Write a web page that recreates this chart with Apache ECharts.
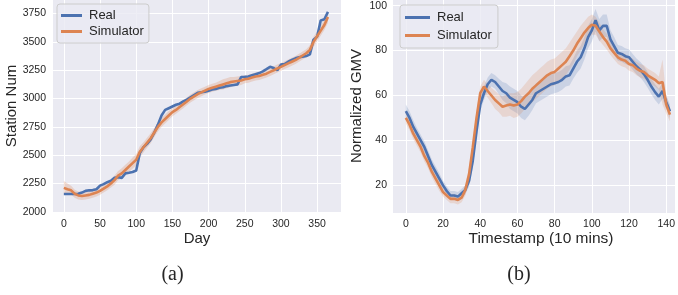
<!DOCTYPE html>
<html>
<head>
<meta charset="utf-8">
<script src="https://cdn.jsdelivr.net/npm/echarts@6/dist/echarts.min.js"></script>
<style>
  html, body { margin: 0; padding: 0; background: #fff; }
  #chart { width: 678px; height: 295px; }
</style>
</head>
<body>
<div id="chart"></div>
<script>
// (a) station count per day, sampled every 5 days
const dayStep = 5
const stationReal = [2158,2158,2158,2158,2160,2170,2185,2190,2192,2200,
  2232,2245,2262,2275,2300,2305,2300,2340,2345,2352,
  2365,2520,2570,2600,2640,2700,2770,2850,2900,2915,
  2930,2945,2955,2975,2990,3010,3030,3050,3055,3060,
  3070,3080,3085,3095,3100,3110,3115,3120,3125,3190,
  3192,3195,3205,3215,3225,3240,3260,3280,3270,3250,
  3300,3305,3325,3340,3355,3365,3370,3375,3390,3520,
  3545,3690,3700,3765]
const stationSim = [2212,2200,2190,2160,2145,2140,2145,2150,2160,2170,
  2185,2205,2225,2250,2280,2320,2340,2370,2400,2430,
  2460,2530,2570,2610,2650,2700,2750,2790,2820,2850,
  2880,2900,2925,2950,2975,3000,3020,3040,3055,3070,
  3085,3095,3105,3115,3125,3135,3145,3150,3155,3160,
  3170,3175,3185,3195,3200,3210,3220,3235,3250,3265,
  3280,3295,3310,3325,3340,3360,3380,3400,3430,3500,
  3550,3600,3650,3720]
const stationSimSpread = [60,50,40,35,35,35,35,35,35,35,
  35,35,35,35,40,40,45,45,45,50,
  50,50,45,45,45,40,40,40,40,40,
  35,35,35,35,35,35,35,35,35,35,
  35,35,35,40,45,45,45,40,40,40,
  35,35,35,35,35,35,35,35,35,35,
  35,35,35,35,35,35,35,35,40,45,
  45,45,45,50]
const dayTicks = [0, 50, 100, 150, 200, 250, 300, 350]
const stationTicks = [2000, 2250, 2500, 2750, 3000, 3250, 3500, 3750]

// (b) normalized GMV per timestamp, sampled every 2 steps
const tsStep = 2
const gmvReal = [53,50,46,43,40,37,33,29,26,23,
  20,17.5,15.5,15.5,15,16.5,18,22,31,44,
  56,61,65,67,66,64,62,61,59,58,
  57,55,54,56,58,61,62,63,64,65,
  65.5,66,67,68.5,69,72,75,77,81,86,
  89,93.5,89,91,91,85,82,79,78.5,77.5,
  77,75,73,71.5,69.5,67,64,61.5,59.5,62,
  57,53]
const gmvSim = [50,47,43,40,37,33,30,26,23,20,
  17,15.5,14,14,13.5,14.5,18,25,37,50,
  61,64,62,60,58,56.5,55,55.5,56,55.5,
  56,57.5,59.5,61,63,64.5,66,67.5,69,70,
  70.5,72,73.5,75,77.5,80,83,85.5,88,90,
  91.5,91,88.5,86,84,81,79,77,76,75.5,
  74,73.5,72,71,70.5,69,68,67,65.5,66,
  56,51.5]
const gmvRealSpread = [3,3,3,2.5,2.5,2.5,2.5,2.5,2.5,2.5,
  2,2,2,2,2,2,2,2.5,3,3,
  3,3,3,3,3,3.5,4,4.5,5,5,
  5,5,5,5,4.5,4.5,4.5,4.5,4.5,4.5,
  4.5,4.5,4.5,4.5,4.5,4.5,5,5,5,5,
  5,5,5,5,5,4,4,3.5,3.5,3.5,
  3.5,3.5,3.5,3.5,3.5,3.5,3.5,3.5,3.5,3.5,
  3,3]
const gmvSimSpread = [2.5,2.5,2.5,2.5,2.5,2.5,2.5,2.5,2.5,2.5,
  2,2,2,2,2,2,2.5,3,3,3,
  3,3,3,3.5,4,4,4.5,5,5,5.5,
  5.5,5.5,5.5,6,6,6,6,6,6,6,
  6,6,6,6,6,6,5.5,5.5,5,5,
  4.5,4,4,3.5,3.5,3,3,3,3,3,
  3,3,3,3,3,3,3,3,3,10,
  4,3]
const tsTicks = [0, 20, 40, 60, 80, 100, 120, 140]
const gmvTicks = [20, 40, 60, 80, 100]

const BLUE = '#4C72B0'
const ORANGE = '#DD8452'
const TXT = '#262626'
const SANS = 'Liberation Sans'

function pairs (vals, step) {
  return vals.map((v, i) => [i * step, v])
}

// shaded band: one polygon through the axis scale (upper edge, then lower edge back)
function band (vals, spread, step, color, idx) {
  const rows = vals.map((v, i) => [i * step, v - spread[i], v + spread[i]])
  return {
    type: 'custom', xAxisIndex: idx, yAxisIndex: idx, silent: true, z: 1,
    data: rows,
    encode: { x: 0, y: [1, 2] },
    renderItem: function (params, api) {
      if (params.dataIndex !== 0) return
      const top = rows.map(r => api.coord([r[0], r[2]]))
      const bottom = rows.map(r => api.coord([r[0], r[1]])).reverse()
      return {
        type: 'polygon',
        shape: { points: top.concat(bottom) },
        style: { fill: color, stroke: null }
      }
    }
  }
}

function line (name, vals, step, color, idx) {
  return {
    name: name, type: 'line', xAxisIndex: idx, yAxisIndex: idx, z: 3,
    data: pairs(vals, step), showSymbol: false,
    itemStyle: { color: color },
    lineStyle: { color: color, width: 2.6 }
  }
}

function valAxis (idx, min, max, ticks, margin) {
  return {
    type: 'value', gridIndex: idx, min: min, max: max,
    axisLine: { show: false },
    axisTick: { show: false, customValues: ticks },
    axisLabel: {
      customValues: ticks, color: TXT, fontSize: 10.5, fontFamily: SANS, margin: margin,
      formatter: v => String(v)
    },
    splitLine: { show: true, lineStyle: { color: '#ffffff', width: 1 } }
  }
}

function legend (left, top, pad, iw, gap) {
  return {
    left: left, top: top, orient: 'vertical', padding: pad, itemGap: gap,
    data: ['Real', 'Simulator'], icon: 'rect', itemWidth: iw, itemHeight: 3,
    backgroundColor: 'rgba(234,234,242,0.8)', borderColor: '#cccccc', borderWidth: 1, borderRadius: 3,
    textStyle: { color: TXT, fontSize: 13, fontFamily: SANS, padding: [0, 0, 0, 2] }
  }
}

function label (text, x, y, size, rot, font) {
  return {
    type: 'text', x: x, y: y, rotation: rot || 0,
    style: {
      text: text, fill: TXT, fontSize: size, fontFamily: font || SANS,
      align: 'center', verticalAlign: 'middle', textAlign: 'center', textVerticalAlign: 'middle'
    }
  }
}

const chart = echarts.init(document.getElementById('chart'), null, { renderer: 'canvas' })
chart.setOption({
  animation: false,
  grid: [
    { left: 53, top: 0, width: 288, height: 213, show: true, backgroundColor: '#EAEAF2', borderWidth: 0 },
    { left: 393, top: 0, width: 285, height: 213, show: true, backgroundColor: '#EAEAF2', borderWidth: 0 }
  ],
  xAxis: [
    valAxis(0, -15, 383, dayTicks, 6),
    valAxis(1, -6.9, 144.7, tsTicks, 6)
  ],
  yAxis: [
    valAxis(0, 1990, 3870, stationTicks, 7),
    valAxis(1, 7.7, 102.5, gmvTicks, 6)
  ],
  legend: [
    legend(57, 4, [5, 5, 5, 4], 21, 3),
    legend(400, 5, [6, 6, 6, 5], 25, 5)
  ],
  graphic: [
    label('Station Num', 12, 106, 15, Math.PI / 2),
    label('Normalized GMV', 357, 106, 15, Math.PI / 2),
    label('Day', 197, 239, 15),
    label('Timestamp (10 mins)', 541, 239, 15.5),
    label('(a)', 172.5, 275, 20, 0, 'Liberation Serif'),
    label('(b)', 519, 275, 20, 0, 'Liberation Serif')
  ],
  series: [
    band(stationSim, stationSimSpread, dayStep, 'rgba(221,132,82,0.25)', 0),
    line('Real', stationReal, dayStep, BLUE, 0),
    line('Simulator', stationSim, dayStep, ORANGE, 0),
    band(gmvReal, gmvRealSpread, tsStep, 'rgba(76,114,176,0.2)', 1),
    band(gmvSim, gmvSimSpread, tsStep, 'rgba(221,132,82,0.2)', 1),
    line('Real', gmvReal, tsStep, BLUE, 1),
    line('Simulator', gmvSim, tsStep, ORANGE, 1)
  ]
})
</script>
</body>
</html>
